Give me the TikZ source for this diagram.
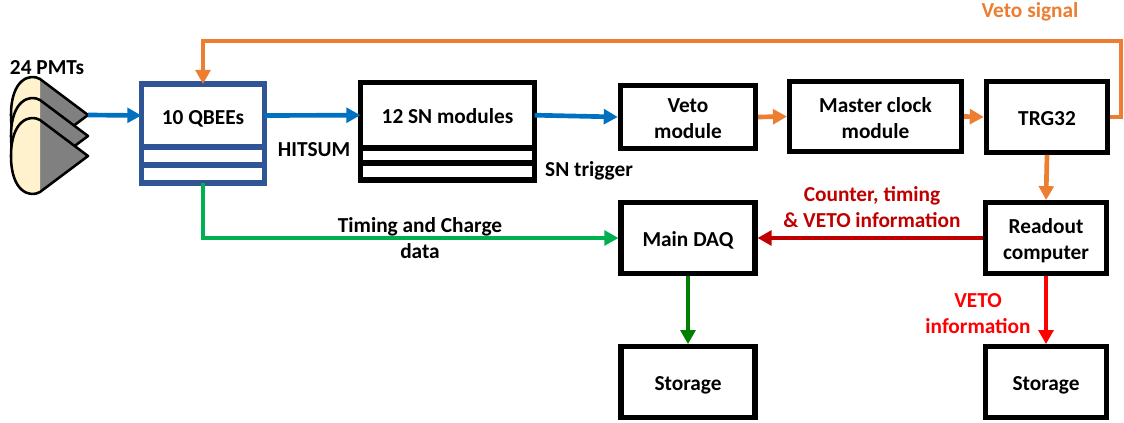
\documentclass[tikz,border=0pt]{standalone}
\usepackage{fontspec}
\setmainfont{Carlito}
\usetikzlibrary{arrows.meta}
\definecolor{QBlue}{RGB}{47,85,151}
\definecolor{ArrBlue}{RGB}{0,112,192}
\definecolor{ArrOrange}{RGB}{237,125,49}
\definecolor{ArrGreen}{RGB}{0,176,80}
\definecolor{ArrDarkGreen}{RGB}{0,128,0}
\definecolor{ArrDarkRed}{RGB}{192,0,0}
\definecolor{PmtCream}{RGB}{255,242,204}
\definecolor{PmtGrey}{RGB}{128,128,128}

\begin{document}
\begin{tikzpicture}[x=0.75pt, y=-0.75pt,
		Pfeil/.style={arrows = -{Triangle[length=10.5pt, width=11pt]}, line width=3.5pt},
		Frame/.style={draw, line width=3.8pt, inner sep=0pt},
		Box/.style={Frame, align=center, font=\bfseries\fontsize{16}{19.5}\selectfont,
			execute at begin node={\rule{0pt}{18pt}}, execute at end node={\rule[-5pt]{0pt}{5pt}}},
		TwoBox/.style={Box, execute at begin node={\rule{0pt}{38pt}}},
		Row/.style={Frame, anchor=north, outer sep=0pt},
		Lab/.style={inner sep=0pt, align=center, font=\bfseries\fontsize{16}{19.5}\selectfont}]
	\useasboundingbox (0,0) rectangle (1124,423);
	% PMTs
	\foreach \dy in {-41,-20,0}{
		\fill[PmtGrey] (40,120+\dy) -- (88,156+\dy) -- (40,192+\dy) -- cycle;
		\fill[PmtCream] (40,120+\dy) .. controls (30,114+\dy) and (11,120+\dy) .. (11,156+\dy) .. controls (11,192+\dy) and (30,198+\dy) .. (40,192+\dy) -- cycle;
		\draw[line width=1.9pt, line join=round] (40,192+\dy) -- (88,156+\dy) -- (40,120+\dy) .. controls (30,114+\dy) and (11,120+\dy) .. (11,156+\dy) .. controls (11,192+\dy) and (30,198+\dy) .. (40,192+\dy);
	}
	\coordinate (pmt) at (88,115);
	\node[Lab] (pmtlabel) at (47,68) {24 PMTs};
	% QBEE stack
	\node[Box, draw=QBlue, outer sep=0pt, minimum width=92.5pt, minimum height=47.25pt] (qbee) at (203,115.5) {10 QBEEs};
	\node[Row, draw=QBlue, minimum width=92.5pt, minimum height=13.5pt] (qbee2) at (qbee.south) {};
	\node[Row, draw=QBlue, minimum width=92.5pt, minimum height=13.5pt] (qbee3) at (qbee2.south) {};
	% SN stack
	\node[Box, outer sep=0pt, minimum width=130.7pt, minimum height=49.2pt] (sn) at (447.5,115.2) {12 SN modules};
	\node[Row, minimum width=130.7pt, minimum height=11.25pt] (sn2) at (sn.south) {};
	\node[Row, minimum width=130.7pt, minimum height=12.75pt] (sn3) at (sn2.south) {};
	% single boxes
	\node[TwoBox, minimum width=101.5pt, minimum height=47.5pt] (veto) at (688,117) {Veto\\module};
	\node[TwoBox, minimum width=129pt, minimum height=52.5pt] (clock) at (875.5,116.5) {Master clock\\module};
	\node[Box, minimum width=91pt, minimum height=53pt] (trg) at (1047,117) {TRG32};
	\node[Box, minimum width=100.5pt, minimum height=53pt] (daq) at (688,238) {Main DAQ};
	\node[TwoBox, minimum width=91pt, minimum height=53pt] (readout) at (1046,238) {Readout\\computer};
	\node[Box, minimum width=100.5pt, minimum height=53pt] (store1) at (688,382) {Storage};
	\node[Box, minimum width=91pt, minimum height=53pt] (store2) at (1046,382) {Storage};
	% arrows
	\coordinate (vetoturn) at (1121,41);
	\draw[Pfeil, ArrBlue] (pmt) -- (qbee.west);
	\draw[Pfeil, ArrBlue] (qbee.east) -- (sn.west);
	\draw[Pfeil, ArrBlue] (sn.east) -- (veto.west);
	\draw[Pfeil, ArrOrange] (veto.east) -- (clock.west);
	\draw[Pfeil, ArrOrange] (clock.east) -- (trg.west);
	\draw[Pfeil, ArrOrange] (trg.south) -- (readout.north);
	\draw[Pfeil, ArrOrange] (trg.east) -| (vetoturn) -| (qbee.north);
	\draw[Pfeil, ArrGreen] (qbee3.south) |- (daq.west);
	\draw[Pfeil, ArrDarkRed] (readout.west) -- (daq.east);
	\draw[Pfeil, ArrDarkGreen] (daq.south) -- (store1.north);
	\draw[Pfeil, red] (readout.south) -- (store2.north);
	% labels
	\node[Lab, text=ArrOrange] (vetolabel) at (1030,12) {Veto signal};
	\node[Lab] (hitsum) at (314,150) {HITSUM};
	\node[Lab] (sntrig) at (589,171) {SN trigger};
	\node[Lab] (timing) at (420,238) {Timing and Charge\\data};
	\node[Lab, text=ArrDarkRed] (counter) at (872,207) {Counter, timing\\\&~VETO information};
	\node[Lab, text=red] (vetoinfo) at (978,313.5) {VETO\\information};
\end{tikzpicture}
\end{document}
